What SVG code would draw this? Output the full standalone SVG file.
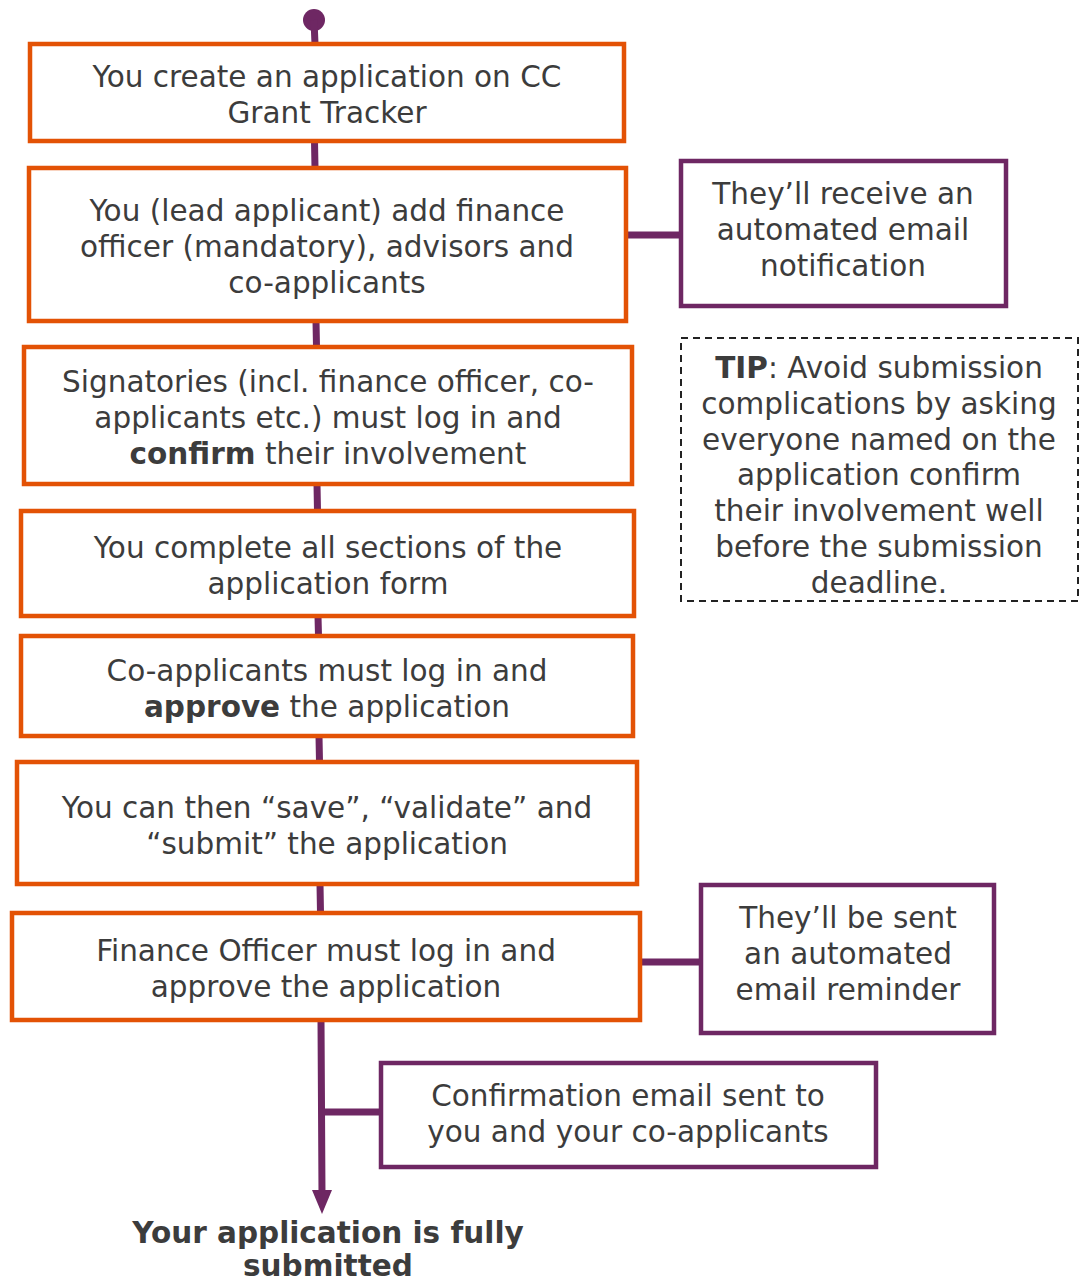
<svg xmlns="http://www.w3.org/2000/svg" width="1088" height="1284" viewBox="0 0 1088 1284">
<defs>
<style>
.step{fill:#fff;stroke:#E35205;stroke-width:4.5}
.note{fill:#fff;stroke:#6E2763;stroke-width:4.5}
.tip{fill:#fff;stroke:#222;stroke-width:2;stroke-dasharray:7 5}
.t{font-family:"DejaVu Sans",Verdana,sans-serif;font-size:29.5px;fill:#3C3C3C;text-anchor:middle}
.b{font-weight:bold}
.ln{stroke:#6E2763;stroke-width:7;fill:none}
</style>
</defs>
<rect width="1088" height="1284" fill="#fff"/>
<g id="connectors">
<circle cx="314" cy="20" r="11" fill="#6E2763"/>
<path class="ln" d="M314 20 L315 44 M314.5 141 L315 168 M316 321 L316.5 347 M317 484 L317.5 511 M318 616 L318.5 636 M319 736 L319.5 762 M320 884 L320.5 913 M321 1020 L322 1195"/>
<path d="M312 1190 L332 1190 L322 1214 Z" fill="#6E2763"/>
<path class="ln" d="M626 235 L681 235 M640 962 L701 962 M322 1112 L381 1112"/>
</g>
<g id="n1">
<rect class="step" x="30" y="44" width="594" height="97"/>
<text class="t" x="327" y="86.5">You create an application on CC</text>
<text class="t" x="327" y="122.5">Grant Tracker</text>
</g>
<g id="n2">
<rect class="step" x="29" y="168" width="597" height="153"/>
<text class="t" x="327" y="220.5">You (lead applicant) add finance</text>
<text class="t" x="327" y="256.5">officer (mandatory), advisors and</text>
<text class="t" x="327" y="292.5">co-applicants</text>
</g>
<g id="n3">
<rect class="step" x="24" y="347" width="608" height="137"/>
<text class="t" x="328" y="391.5">Signatories (incl. finance officer, co-</text>
<text class="t" x="328" y="427.5">applicants etc.) must log in and</text>
<text class="t" x="328" y="463.5"><tspan class="b">confirm</tspan> their involvement</text>
</g>
<g id="n4">
<rect class="step" x="21" y="511" width="613" height="105"/>
<text class="t" x="328" y="557.5">You complete all sections of the</text>
<text class="t" x="328" y="593.5">application form</text>
</g>
<g id="n5">
<rect class="step" x="21" y="636" width="612" height="100"/>
<text class="t" x="327" y="680.5">Co-applicants must log in and</text>
<text class="t" x="327" y="716.5"><tspan class="b">approve</tspan> the application</text>
</g>
<g id="n6">
<rect class="step" x="17" y="762" width="620" height="122"/>
<text class="t" x="327" y="817.5">You can then “save”, “validate” and</text>
<text class="t" x="327" y="853.5">“submit” the application</text>
</g>
<g id="n7">
<rect class="step" x="12" y="913" width="628" height="107"/>
<text class="t" x="326" y="960.5">Finance Officer must log in and</text>
<text class="t" x="326" y="996.5">approve the application</text>
</g>
<g id="p1">
<rect class="note" x="681" y="161" width="325" height="145"/>
<text class="t" x="843" y="203.5">They’ll receive an</text>
<text class="t" x="843" y="239.5">automated email</text>
<text class="t" x="843" y="275.5">notification</text>
</g>
<g id="tip">
<rect class="tip" x="681" y="338" width="397" height="263"/>
<text class="t" x="879" y="377.5"><tspan class="b">TIP</tspan>: Avoid submission</text>
<text class="t" x="879" y="413.5">complications by asking</text>
<text class="t" x="879" y="449.5">everyone named on the</text>
<text class="t" x="879" y="484.5">application confirm</text>
<text class="t" x="879" y="520.5">their involvement well</text>
<text class="t" x="879" y="556.5">before the submission</text>
<text class="t" x="879" y="592.5">deadline.</text>
</g>
<g id="p2">
<rect class="note" x="701" y="885" width="293" height="148"/>
<text class="t" x="848" y="927.5">They’ll be sent</text>
<text class="t" x="848" y="963.5">an automated</text>
<text class="t" x="848" y="999.5">email reminder</text>
</g>
<g id="p3">
<rect class="note" x="381" y="1063" width="495" height="104"/>
<text class="t" x="628" y="1105.5">Confirmation email sent to</text>
<text class="t" x="628" y="1141.5">you and your co-applicants</text>
</g>
<g id="end">
<text class="t b" x="328" y="1243">Your application is fully</text>
<text class="t b" x="328" y="1276">submitted</text>
</g>
</svg>
